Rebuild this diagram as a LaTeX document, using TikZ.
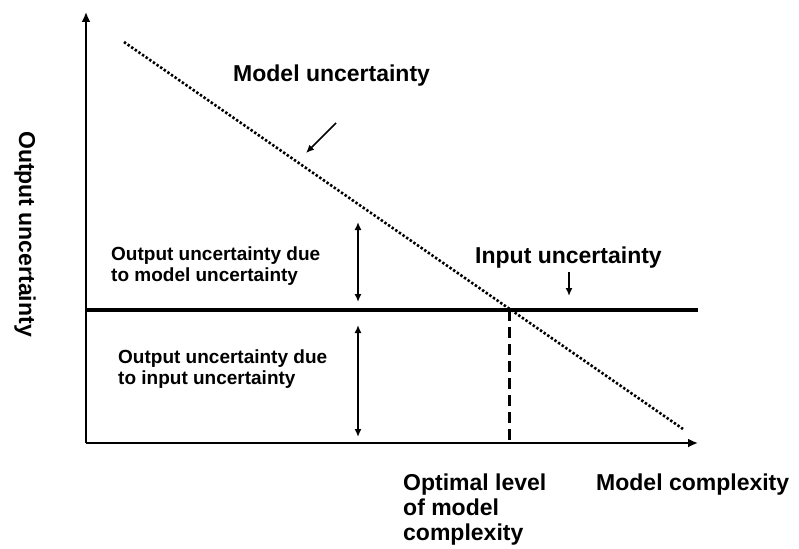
\documentclass[tikz,border=0pt]{standalone}
\usepackage{fontspec}
\setmainfont{Liberation Sans}
\usetikzlibrary{arrows.meta}
\begin{document}
\begin{tikzpicture}[x=1pt,y=-1pt,
  axis/.style={line width=1.8pt,-{Latex[length=10pt,width=9pt]}},
  ptr/.style={line width=1.6pt,-{Latex[length=8pt,width=7pt]}},
  dptr/.style={line width=1.6pt,{Latex[length=8pt,width=7pt]}-{Latex[length=8pt,width=7pt]}},
  big/.style={font=\fontsize{23}{25}\selectfont\bfseries,inner sep=0pt,align=left},
  small/.style={font=\fontsize{19}{21}\selectfont\bfseries,inner sep=0pt,align=left}]
\useasboundingbox (0,0) rectangle (799,548);
% coordinates
\coordinate (O) at (86,443);
\coordinate (ytip) at (86,12);
\coordinate (xtip) at (698,443);
\coordinate (hl) at (86,310);
\coordinate (hr) at (698,310);
\coordinate (m1) at (124,42);
\coordinate (m2) at (683,429);
\coordinate (opt) at (509,310);
\coordinate (optb) at (509,443);
\coordinate (ma1) at (336,123);
\coordinate (ma2) at (306,153);
\coordinate (ia1) at (569,272);
\coordinate (ia2) at (569,296);
\coordinate (u1) at (358,222);
\coordinate (u2) at (358,302);
\coordinate (l1) at (358,325);
\coordinate (l2) at (358,437);
% axes
\draw[axis] (O) -- (ytip);
\draw[axis] (O) -- (xtip);
% input uncertainty line
\draw[line width=4pt] (hl) -- (hr);
% model uncertainty line
\draw[line width=2.6pt,dash pattern=on 2.4pt off 2pt] (m1) -- (m2);
% optimal level
\draw[line width=3pt,dash pattern=on 11pt off 6pt] (opt) -- (optb);
% pointers
\draw[ptr] (ma1) -- (ma2);
\draw[ptr] (ia1) -- (ia2);
\draw[dptr] (u1) -- (u2);
\draw[dptr] (l1) -- (l2);
% labels
\node[big,anchor=base west] (mu) at (233,82) {Model uncertainty};
\node[big,anchor=base west] (iu) at (475,263) {Input uncertainty};
\node[small,anchor=north west] (om) at (111,246.2) {Output uncertainty due\\to model uncertainty};
\node[small,anchor=north west] (oi) at (118,349.2) {Output uncertainty due\\to input uncertainty};
\node[big,anchor=north west] (ol) at (403,473.2) {Optimal level\\of model\\complexity};
\node[big,anchor=base west] (mc) at (596,490) {Model complexity};
\node[big,rotate=-90] (ou) at (25,234) {Output uncertainty};
\end{tikzpicture}
\end{document}
